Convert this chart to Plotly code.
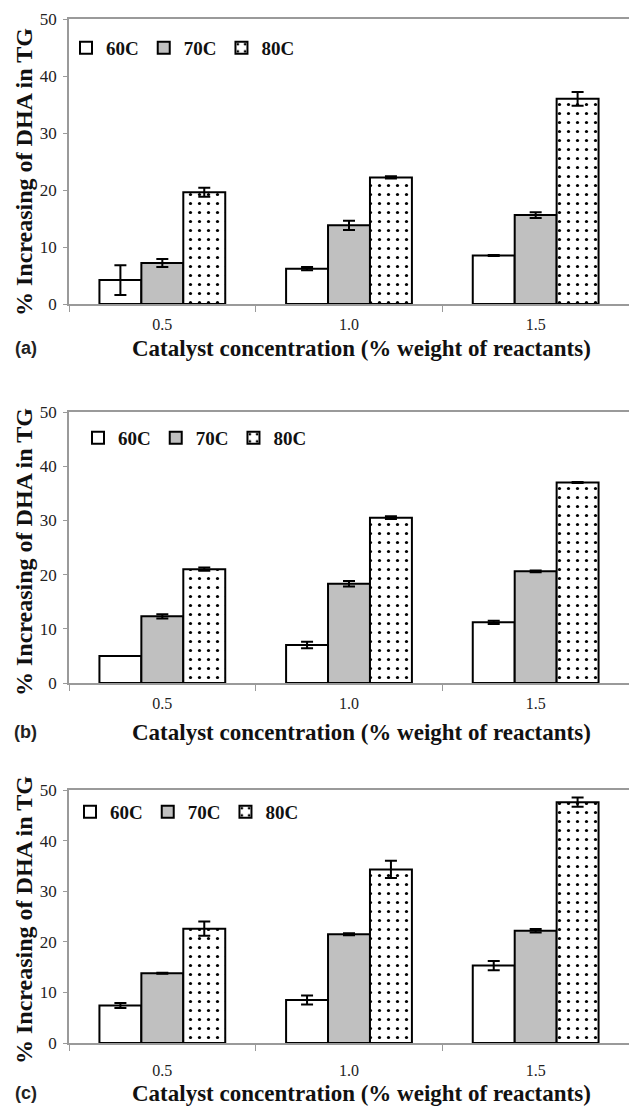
import plotly.graph_objects as go

# ---------------- data ----------------
categories = ["0.5", "1.0", "1.5"]
series_names = ["60C", "70C", "80C"]

# panel (a)
a_60 = [4.2, 6.2, 8.5]
a_70 = [7.2, 13.8, 15.6]
a_80 = [19.6, 22.2, 36.0]
a_60_err = [2.6, 0.3, 0.1]
a_70_err = [0.7, 0.8, 0.5]
a_80_err = [0.8, 0.2, 1.2]

# panel (b)
b_60 = [5.0, 7.0, 11.2]
b_70 = [12.3, 18.3, 20.6]
b_80 = [21.0, 30.5, 37.0]
b_60_err = [0.0, 0.6, 0.3]
b_70_err = [0.4, 0.5, 0.15]
b_80_err = [0.3, 0.25, 0.1]

# panel (c)
c_60 = [7.4, 8.5, 15.3]
c_70 = [13.8, 21.5, 22.2]
c_80 = [22.6, 34.3, 47.6]
c_60_err = [0.5, 0.9, 0.9]
c_70_err = [0.1, 0.2, 0.35]
c_80_err = [1.4, 1.7, 0.9]

panel_labels = ["(a)", "(b)", "(c)"]
x_title = "Catalyst concentration (% weight of reactants)"
y_title = "% Increasing of DHA in TG"
y_ticks = [0, 10, 20, 30, 40, 50]

W, H = 629, 1110
SERIF = "Liberation Serif, Times New Roman, serif"
SANS = "Liberation Sans, Arial, sans-serif"
AXIS_GRAY = "#9a9a9a"


def py(px):
    return 1 - px / H


def px_x(px):
    return px / W


# panel pixel geometry
panels = [
    dict(top=19, bottom=304, stand=5, leg_y=48, leg_x=66, ytitle_c=172, xtitle_y=348),
    dict(top=412, bottom=683, stand=5, leg_y=438, leg_x=78, ytitle_c=552, xtitle_y=732),
    dict(top=790, bottom=1043, stand=12, leg_y=812, leg_x=70, ytitle_c=920, xtitle_y=1093),
]

data_sets = [
    ((a_60, a_60_err), (a_70, a_70_err), (a_80, a_80_err)),
    ((b_60, b_60_err), (b_70, b_70_err), (b_80, b_80_err)),
    ((c_60, c_60_err), (c_70, c_70_err), (c_80, c_80_err)),
]

fig = go.Figure()

for i, sets in enumerate(data_sets):
    sfx = "" if i == 0 else str(i + 1)
    leg = "legend" + sfx
    for j, (vals, errs) in enumerate(sets):
        if j == 0:
            marker = dict(color="white", line=dict(color="black", width=2))
        elif j == 1:
            marker = dict(color="#c0c0c0", line=dict(color="black", width=2))
        else:
            marker = dict(color="white", line=dict(color="black", width=2),
                          pattern=dict(shape=".", fgcolor="black", bgcolor="white",
                                       size=9, solidity=0.1, fillmode="replace"))
        fig.add_trace(go.Bar(
            x=categories, y=vals, name=series_names[j],
            marker=marker,
            error_y=dict(type="data", array=errs, visible=True,
                         color="black", thickness=2, width=6),
            xaxis="x" + sfx, yaxis="y" + sfx, legend=leg,
        ))

layout = dict(
    width=W, height=H,
    margin=dict(l=0, r=0, t=0, b=0, pad=0, autoexpand=False),
    paper_bgcolor="white", plot_bgcolor="white",
    barmode="group", bargap=0.326, bargroupgap=0,
    showlegend=True,
    annotations=[],
)

for i, p in enumerate(panels):
    sfx = "" if i == 0 else str(i + 1)
    layout["xaxis" + sfx] = dict(
        domain=[px_x(69), 1.0], anchor="y" + sfx,
        type="category", showgrid=False, zeroline=False,
        showline=True, linecolor=AXIS_GRAY, linewidth=1.5, mirror=True,
        ticks="outside", tickson="boundaries", ticklen=6, tickcolor=AXIS_GRAY,
        tickwidth=1, ticklabelstandoff=p["stand"],
        tickfont=dict(family=SERIF, size=16, color="#222222"),
        range=[-0.5, 2.5], fixedrange=True, automargin=False,
    )
    layout["yaxis" + sfx] = dict(
        domain=[py(p["bottom"]), py(p["top"])], anchor="x" + sfx,
        range=[0, 50], tickvals=y_ticks, showgrid=False, zeroline=False,
        showline=True, linecolor=AXIS_GRAY, linewidth=1.5,
        ticks="outside", ticklen=4, tickcolor=AXIS_GRAY, tickwidth=1,
        ticklabelstandoff=3,
        tickfont=dict(family=SERIF, size=17, color="#222222"),
        fixedrange=True, automargin=False,
    )
    layout["legend" + sfx] = dict(
        orientation="h", x=px_x(p["leg_x"]), xanchor="left",
        y=py(p["leg_y"]), yanchor="middle",
        bgcolor="rgba(0,0,0,0)", borderwidth=0,
        font=dict(family=SERIF, size=19, color="#111111", weight="bold"),
        itemwidth=30,
        traceorder="normal", itemclick=False, itemdoubleclick=False,
    )
    layout["annotations"].append(dict(
        text="<b>" + y_title + "</b>", textangle=-90,
        x=px_x(24), y=py(p["ytitle_c"]), xref="paper", yref="paper",
        xanchor="center", yanchor="middle", showarrow=False,
        font=dict(family=SERIF, size=24, color="#111111"),
    ))
    layout["annotations"].append(dict(
        text="<b>" + x_title + "</b>",
        x=px_x(361), y=py(p["xtitle_y"]), xref="paper", yref="paper",
        xanchor="center", yanchor="middle", showarrow=False,
        font=dict(family=SERIF, size=23, color="#111111"),
    ))
    layout["annotations"].append(dict(
        text="<b>" + panel_labels[i] + "</b>",
        x=px_x(26), y=py(p["xtitle_y"]), xref="paper", yref="paper",
        xanchor="center", yanchor="middle", showarrow=False,
        font=dict(family=SANS, size=18, color="#222222"),
    ))

fig.update_layout(**layout)
fig.write_html("out.html")
